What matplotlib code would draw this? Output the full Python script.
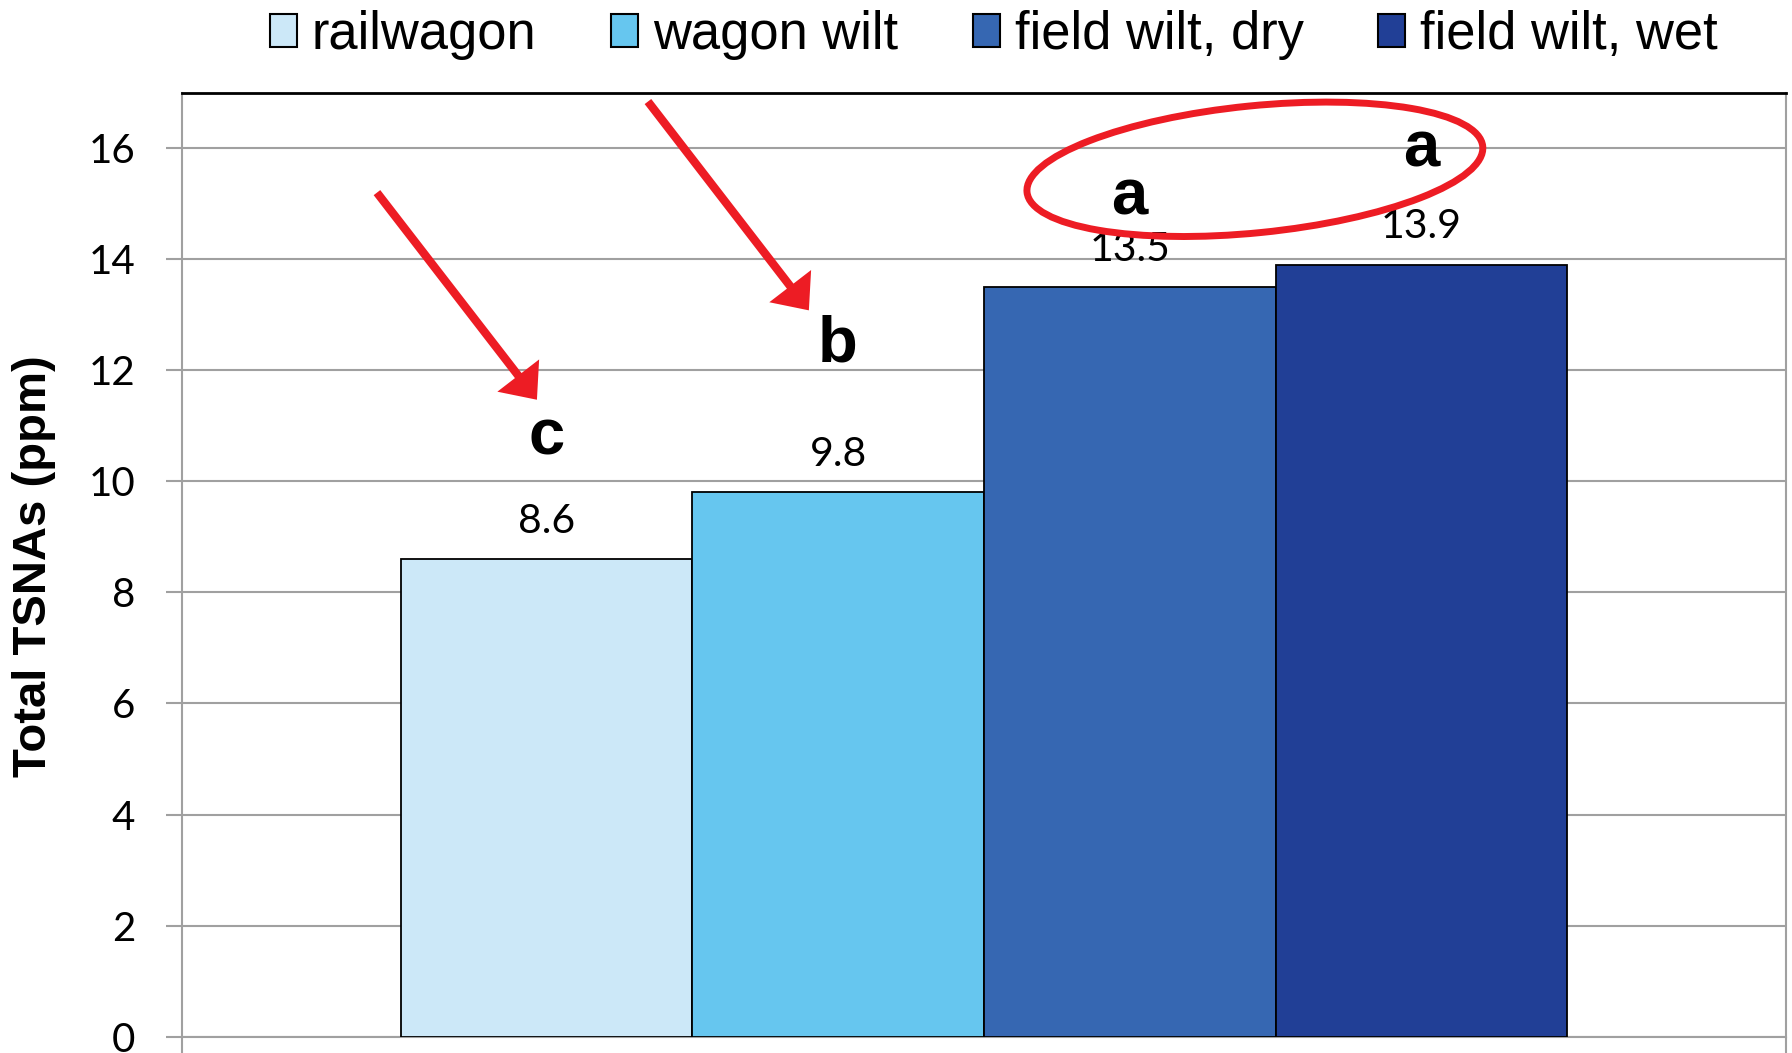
import matplotlib
matplotlib.use("Agg")
import numpy as np
import matplotlib.pyplot as plt
from matplotlib.patches import Ellipse, FancyArrowPatch, ArrowStyle, Patch
from matplotlib.transforms import ScaledTranslation

# Total TSNAs by curing/wilting treatment
treatments = ["railwagon", "wagon wilt", "field wilt, dry", "field wilt, wet"]
tsna_ppm = [8.6, 9.8, 13.5, 13.9]
value_labels = ["8.6", "9.8", "13.5", "13.9"]
sig_groups = ["c", "b", "a", "a"]
yticks = [0, 2, 4, 6, 8, 10, 12, 14, 16]

# styling / layout
bar_colors = ["#CCE8F8", "#66C6EF", "#3667B2", "#213F96"]
letter_y = [10.48, 12.15, 14.80, 15.67]
grid_gray = "#A0A0A0"
red = "#ED1C24"

plt.rcParams["font.family"] = ["Lato", "DejaVu Sans"]

fig = plt.figure(figsize=(17.92, 10.53), dpi=100)
ax = fig.add_axes([0.1014, 0.0155, 0.8953, 0.8965])

n = len(treatments)
width = 0.1818
xc = (np.arange(n) - (n - 1) / 2) * width

handles = []
for i in range(n):
    ax.bar(xc[i], tsna_ppm[i], width, color=bar_colors[i], edgecolor="black",
           linewidth=1.3, zorder=3)
    handles.append(Patch(facecolor=bar_colors[i], edgecolor="black", linewidth=1.5))

ax.set_xlim(-0.5, 0.5)
ax.set_ylim(0, 17)
ax.set_yticks(yticks)
ax.set_yticklabels([str(t) for t in yticks])
ax.set_xticks([-0.5, 0.5])
ax.set_xticklabels([])

ax.yaxis.grid(True, color=grid_gray, linewidth=1.5)
ax.set_axisbelow(True)
for side in ["left", "right", "bottom"]:
    ax.spines[side].set_color(grid_gray)
    ax.spines[side].set_linewidth(1.5)
ax.spines["top"].set_color("black")
ax.spines["top"].set_linewidth(2)

ax.tick_params(axis="y", length=11.5, width=1.5, color=grid_gray, pad=22,
               labelsize=29)
ax.tick_params(axis="x", length=12, width=1.5, color=grid_gray)

# value labels above bars
for i in range(n):
    ax.annotate(value_labels[i], (xc[i], tsna_ppm[i]), xytext=(0, 19),
                textcoords="offset points", ha="center", va="baseline",
                fontsize=29.5, family="Lato")

# significance letters
for i in range(n):
    ax.text(xc[i], letter_y[i], sig_groups[i], ha="center", va="baseline",
            fontsize=47, fontweight="bold", family="Liberation Sans")

# red arrows pointing at the letters
arrow_style = ArrowStyle.Simple(head_length=2.2, head_width=3.8, tail_width=0.6)
for (x0, y0), (x1, y1) in [((-0.3783, 15.20), (-0.2786, 11.47)),
                           ((-0.2094, 16.84), (-0.1091, 13.08))]:
    ax.add_patch(FancyArrowPatch((x0, y0), (x1, y1), arrowstyle=arrow_style,
                                 mutation_scale=10, color=red, linewidth=0,
                                 shrinkA=0, shrinkB=0, clip_on=False, zorder=5))

# red ellipse around the two "a" groups
ell = Ellipse((0, 0), width=4.58, height=1.27, angle=5.74, fill=False,
              edgecolor=red, linewidth=5,
              transform=fig.dpi_scale_trans + ScaledTranslation(0.1689, 15.62, ax.transData),
              clip_on=False, zorder=5)
ax.add_patch(ell)

fig.legend(handles, treatments, loc="center", bbox_to_anchor=(0.5545, 0.967),
           ncol=4, frameon=False, prop={"family": "Liberation Sans", "size": 37.8},
           handlelength=0.52, handleheight=0.6, handletextpad=0.28,
           columnspacing=1.42, borderaxespad=0, borderpad=0)

fig.text(0.019, 0.4625, "Total TSNAs (ppm)", rotation=90, ha="center",
         va="center", fontsize=34, fontweight="bold", family="Liberation Sans")

fig.savefig("out.png", dpi=100)
